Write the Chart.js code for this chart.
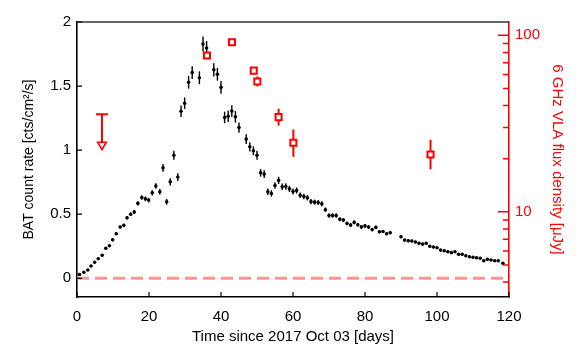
<!DOCTYPE html>
<html>
<head>
<meta charset="utf-8">
<script src="https://cdn.jsdelivr.net/npm/chart.js@4"></script>
<style>
  body { margin: 0; background: #fff; }
  canvas { display: block; }
</style>
</head>
<body>
<canvas id="lightCurve" width="583" height="360"></canvas>
<script>
// BAT count rate (left axis)
const batDays = [0.7, 1.9, 3.0, 3.9, 4.9, 5.9, 7.0, 8.0, 9.0, 9.9, 10.9, 12.0, 13.0, 13.9, 14.9, 15.9, 16.9, 18.0, 19.0, 19.9,
  20.9, 21.9, 23.0, 23.9, 24.9, 25.9, 26.9, 28.0, 28.9, 29.9, 31.0, 32.0, 34.0, 35.0, 36.0, 38.0, 39.0, 40.0, 41.0, 42.0,
  43.0, 44.0, 45.0, 47.0, 48.0, 49.0, 50.0, 51.0, 52.0, 53.0, 54.0, 55.0, 56.0, 57.0, 58.0, 59.0, 60.0, 61.0, 62.0, 63.0,
  64.0, 65.0, 66.0, 67.0, 68.0, 69.0, 70.0, 71.0, 72.0, 73.0, 74.0, 75.0, 76.0, 77.0, 78.0, 79.0, 80.0, 81.0, 82.0, 83.0,
  84.0, 85.0, 86.0, 87.0, 90.0, 91.0, 92.0, 93.0, 94.0, 95.0, 96.0, 97.0, 98.0, 99.0, 100.0, 101.0, 102.0, 103.0, 104.0, 105.0,
  106.0, 107.0, 108.0, 109.0, 110.0, 111.0, 112.0, 113.0, 114.0, 115.0, 116.0, 117.0, 118.3];
const batRate = [0.030, 0.047, 0.065, 0.096, 0.125, 0.153, 0.180, 0.234, 0.254, 0.300, 0.348, 0.400, 0.413, 0.472, 0.500, 0.517, 0.585, 0.630, 0.620, 0.610,
  0.667, 0.720, 0.675, 0.862, 0.597, 0.753, 0.960, 0.790, 1.303, 1.366, 1.530, 1.605, 1.565, 1.828, 1.797, 1.627, 1.592, 1.490, 1.255, 1.265,
  1.305, 1.260, 1.176, 1.086, 1.026, 0.995, 0.960, 0.823, 0.813, 0.675, 0.662, 0.724, 0.764, 0.714, 0.716, 0.698, 0.677, 0.685, 0.648, 0.638,
  0.629, 0.598, 0.594, 0.591, 0.581, 0.535, 0.490, 0.490, 0.490, 0.461, 0.454, 0.428, 0.415, 0.436, 0.418, 0.401, 0.409, 0.400, 0.380, 0.397,
  0.363, 0.365, 0.348, 0.355, 0.324, 0.298, 0.293, 0.291, 0.283, 0.273, 0.267, 0.273, 0.250, 0.244, 0.238, 0.220, 0.215, 0.207, 0.200, 0.207,
  0.187, 0.187, 0.176, 0.168, 0.164, 0.160, 0.156, 0.137, 0.148, 0.143, 0.137, 0.137, 0.117];
const batErr = [0.008, 0.008, 0.008, 0.008, 0.009, 0.009, 0.009, 0.010, 0.010, 0.010, 0.011, 0.012, 0.012, 0.013, 0.014, 0.015, 0.017, 0.018, 0.018, 0.018,
  0.020, 0.022, 0.022, 0.030, 0.022, 0.028, 0.035, 0.030, 0.045, 0.045, 0.050, 0.050, 0.050, 0.058, 0.055, 0.052, 0.050, 0.050, 0.045, 0.045,
  0.045, 0.045, 0.040, 0.038, 0.036, 0.035, 0.035, 0.030, 0.030, 0.025, 0.025, 0.026, 0.028, 0.025, 0.025, 0.024, 0.024, 0.024, 0.022, 0.022,
  0.022, 0.020, 0.020, 0.020, 0.020, 0.018, 0.017, 0.017, 0.017, 0.016, 0.016, 0.015, 0.015, 0.015, 0.014, 0.014, 0.014, 0.014, 0.013, 0.013,
  0.013, 0.012, 0.012, 0.012, 0.011, 0.011, 0.011, 0.010, 0.010, 0.010, 0.010, 0.010, 0.009, 0.009, 0.009, 0.009, 0.009, 0.009, 0.008, 0.008,
  0.008, 0.008, 0.008, 0.008, 0.008, 0.008, 0.008, 0.008, 0.008, 0.008, 0.008, 0.008, 0.008];

// VLA 6 GHz flux density (right axis, uJy)
const vlaDays = [36.1, 43.05, 49.1, 50.1, 56.0, 60.1, 98.2];
const vlaFlux = [76.8, 91.3, 63.1, 54.8, 34.4, 24.6, 21.1];
const vlaErrLo = [2.0, 2.0, 3.0, 3.5, 3.6, 4.1, 3.7];
const vlaErrHi = [2.0, 2.0, 3.0, 3.7, 4.0, 4.7, 4.5];

// VLA upper limit
const limitDay = [6.94];
const limitTop = [35.7];
const limitArrow = [24.0];

// axis ticks
const xTicks = [0, 20, 40, 60, 80, 100, 120];
const leftTicks = [0, 0.5, 1, 1.5, 2];
const rightMajor = [10, 100];
const rightMinor = [4, 5, 6, 7, 8, 9, 20, 30, 40, 50, 60, 70, 80, 90];

const RED = '#ff0000';
Chart.defaults.font.family = '"Liberation Sans", Arial, Helvetica, sans-serif';
Chart.defaults.font.size = 14;
Chart.defaults.color = '#000';

const extras = {
  id: 'extras',
  beforeDatasetsDraw(chart) {
    const { ctx, scales: { x, y, y2 } } = chart;
    ctx.save();
    ctx.strokeStyle = '#000';
    ctx.lineWidth = 1.4;
    batDays.forEach((d, i) => {
      const px = x.getPixelForValue(d);
      ctx.beginPath();
      ctx.moveTo(px, y.getPixelForValue(batRate[i] - batErr[i]));
      ctx.lineTo(px, y.getPixelForValue(batRate[i] + batErr[i]));
      ctx.stroke();
    });
    ctx.strokeStyle = RED;
    ctx.lineWidth = 2;
    vlaDays.forEach((d, i) => {
      const px = x.getPixelForValue(d);
      ctx.beginPath();
      ctx.moveTo(px, y2.getPixelForValue(vlaFlux[i] - vlaErrLo[i]));
      ctx.lineTo(px, y2.getPixelForValue(vlaFlux[i] + vlaErrHi[i]));
      ctx.stroke();
    });
    limitDay.forEach((d, i) => {
      const px = x.getPixelForValue(d);
      const top = y2.getPixelForValue(limitTop[i]);
      ctx.beginPath();
      ctx.moveTo(px - 6, top);
      ctx.lineTo(px + 6, top);
      ctx.moveTo(px, top);
      ctx.lineTo(px, y2.getPixelForValue(limitArrow[i]));
      ctx.stroke();
    });
    ctx.restore();
  },
  afterDraw(chart) {
    const { ctx, chartArea: a, scales: { x, y, y2 } } = chart;
    ctx.save();
    // top frame
    ctx.strokeStyle = '#333';
    ctx.lineWidth = 1.6;
    ctx.beginPath();
    ctx.moveTo(a.left, a.top);
    ctx.lineTo(a.right, a.top);
    ctx.stroke();
    // inward ticks
    ctx.strokeStyle = '#000';
    ctx.lineWidth = 1.2;
    ctx.beginPath();
    xTicks.forEach(v => {
      const px = x.getPixelForValue(v);
      ctx.moveTo(px, a.bottom);
      ctx.lineTo(px, a.bottom - 5);
    });
    leftTicks.forEach(v => {
      const py = y.getPixelForValue(v);
      ctx.moveTo(a.left, py);
      ctx.lineTo(a.left + 5, py);
    });
    ctx.stroke();
    ctx.strokeStyle = RED;
    ctx.lineWidth = 1.5;
    ctx.beginPath();
    rightMajor.forEach(v => {
      const py = y2.getPixelForValue(v);
      ctx.moveTo(a.right, py);
      ctx.lineTo(a.right - 11, py);
    });
    rightMinor.forEach(v => {
      const py = y2.getPixelForValue(v);
      ctx.moveTo(a.right, py);
      ctx.lineTo(a.right - 6, py);
    });
    ctx.stroke();
    ctx.restore();
  }
};

new Chart(document.getElementById('lightCurve').getContext('2d'), {
  type: 'scatter',
  data: {
    datasets: [
      {
        label: 'BAT',
        data: batDays.map((d, i) => ({ x: d, y: batRate[i] })),
        yAxisID: 'y',
        pointRadius: 1.8,
        pointBackgroundColor: '#000',
        pointBorderWidth: 0
      },
      {
        label: 'VLA',
        data: vlaDays.map((d, i) => ({ x: d, y: vlaFlux[i] })),
        yAxisID: 'y2',
        pointStyle: 'rect',
        pointRadius: 4.3,
        pointBorderWidth: 2,
        pointBorderColor: RED,
        pointBackgroundColor: '#fff'
      },
      {
        label: 'VLA limit',
        data: limitDay.map((d, i) => ({ x: d, y: limitArrow[i] })),
        yAxisID: 'y2',
        pointStyle: 'triangle',
        rotation: 180,
        pointRadius: 5,
        pointBorderWidth: 1.6,
        pointBorderColor: RED,
        pointBackgroundColor: '#fff'
      },
      {
        label: 'zero',
        data: [{ x: 0, y: 0 }, { x: 120, y: 0 }],
        yAxisID: 'y',
        showLine: true,
        pointRadius: 0,
        borderColor: 'rgba(255, 120, 120, 0.8)',
        borderWidth: 3,
        borderDash: [12, 6]
      }
    ]
  },
  options: {
    responsive: false,
    animation: false,
    devicePixelRatio: 1,
    layout: { padding: { top: 22, left: 0, right: 0, bottom: 0 } },
    plugins: { legend: { display: false }, tooltip: { enabled: false } },
    scales: {
      x: {
        type: 'linear',
        min: 0,
        max: 120,
        afterBuildTicks: s => { s.ticks = xTicks.map(v => ({ value: v })); },
        afterFit: s => { s.height = 63; },
        grid: { display: false, drawTicks: false },
        border: { display: true, color: '#000', width: 1.6 },
        ticks: { padding: 11, maxRotation: 0, font: { size: 15 }, callback: v => String(v) },
        title: {
          display: true,
          text: 'Time since 2017 Oct 03 [days]',
          font: { size: 15 },
          padding: { top: 0, bottom: 14 }
        }
      },
      y: {
        position: 'left',
        min: -0.146,
        max: 2,
        afterBuildTicks: s => { s.ticks = leftTicks.map(v => ({ value: v })); },
        afterFit: s => { s.width = 77; },
        grid: { display: false, drawTicks: false },
        border: { display: true, color: '#000', width: 1.6 },
        ticks: { padding: 6, font: { size: 15 }, callback: v => String(v) },
        title: {
          display: true,
          text: 'BAT count rate [cts/cm\u00b2/s]',
          font: { size: 14 },
          padding: { top: 21, bottom: 0 }
        }
      },
      y2: {
        type: 'logarithmic',
        position: 'right',
        min: 3.29,
        max: 119,
        afterBuildTicks: s => { s.ticks = rightMajor.map(v => ({ value: v })); },
        afterFit: s => { s.width = 74; },
        grid: { display: false, drawTicks: false },
        border: { display: true, color: RED, width: 1.6 },
        ticks: { padding: 6, color: RED, font: { size: 15 }, callback: v => String(v) },
        title: {
          display: true,
          text: '6 GHz VLA flux density [\u03bcJy]',
          color: RED,
          font: { size: 15 },
          padding: { top: 17, bottom: 0 }
        }
      }
    }
  },
  plugins: [extras]
});
</script>
</body>
</html>
